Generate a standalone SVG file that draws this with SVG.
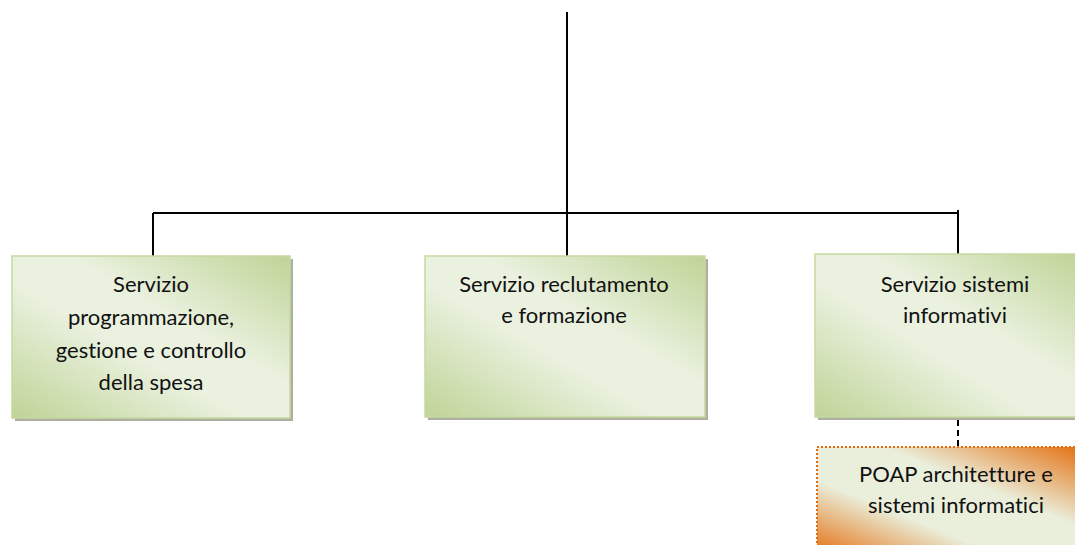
<svg xmlns="http://www.w3.org/2000/svg" width="1075" height="545" viewBox="0 0 1075 545">
<style>
.ln{stroke:#000;stroke-width:2;fill:none}
.dash{stroke:#000;stroke-width:2;fill:none;stroke-dasharray:6,4}
.shadow{fill:#9a9a8a;opacity:0.8}
.box{fill:url(#g);stroke:#c6d9a0;stroke-width:1.5}
.obox{fill:url(#o);stroke:#e46c0a;stroke-width:2;stroke-dasharray:2,2}
text{font-family:Lato,"Liberation Sans",sans-serif;font-size:22px;fill:#111;text-anchor:middle;font-variant-ligatures:none}
</style>
<defs>
<linearGradient id="g" x1="0" y1="1" x2="1" y2="0">
<stop offset="0" stop-color="#bfd496"/>
<stop offset="0.42" stop-color="#eaf1df"/>
<stop offset="0.6" stop-color="#eaf1df"/>
<stop offset="1" stop-color="#bfd496"/>
</linearGradient>
<linearGradient id="o" x1="0" y1="1" x2="1" y2="0">
<stop offset="0" stop-color="#e46c0a"/>
<stop offset="0.35" stop-color="#eaefdc"/>
<stop offset="0.62" stop-color="#eaefdc"/>
<stop offset="1" stop-color="#e46c0a"/>
</linearGradient>
</defs>
<g id="connectors">
<line class="ln" x1="567" y1="12" x2="567" y2="213"/>
<line class="ln" x1="153" y1="213" x2="959" y2="213"/>
<line class="ln" x1="153" y1="213" x2="153" y2="256"/>
<line class="ln" x1="567" y1="213" x2="567" y2="256"/>
<line class="ln" x1="958" y1="210" x2="958" y2="254"/>
<line class="dash" x1="958" y1="420" x2="958" y2="447"/>
</g>
<g id="n1">
<rect class="shadow" x="15" y="259" width="278" height="162"/>
<rect class="box" x="12" y="256" width="278" height="162"/>
<text x="151" y="292">Servizio</text>
<text x="151" y="325">programmazione,</text>
<text x="151" y="358">gestione e controllo</text>
<text x="151" y="390">della spesa</text>
</g>
<g id="n2">
<rect class="shadow" x="428" y="259" width="280" height="161"/>
<rect class="box" x="425" y="256" width="280" height="161"/>
<text x="564" y="292">Servizio reclutamento</text>
<text x="564" y="323">e formazione</text>
</g>
<g id="n3">
<rect class="shadow" x="818" y="257" width="262" height="163"/>
<rect class="box" x="815" y="254" width="265" height="163"/>
<text x="955" y="292">Servizio sistemi</text>
<text x="955" y="323">informativi</text>
</g>
<g id="n4">
<rect class="obox" x="817" y="447" width="270" height="110"/>
<text x="956" y="482">POAP architetture e</text>
<text x="956" y="513">sistemi informatici</text>
</g>
</svg>
